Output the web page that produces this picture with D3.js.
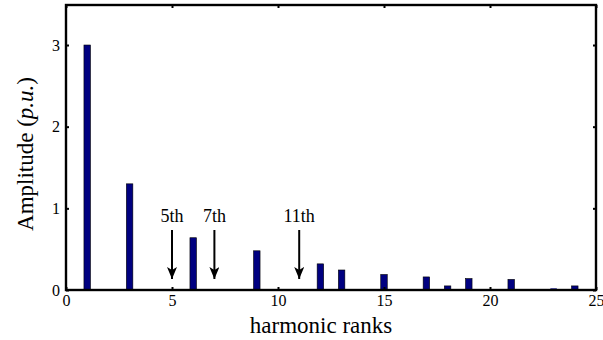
<!DOCTYPE html>
<html><head><meta charset="utf-8">
<script src="https://cdn.jsdelivr.net/npm/d3@7/dist/d3.min.js"></script>
<style>body{margin:0;background:#fff}svg{display:block}svg text{font-family:"Liberation Serif","Times New Roman",Times,"DejaVu Serif",serif !important;fill:#000}</style>
</head><body><svg id="c" width="603" height="340"></svg>
<script>
const ranks = [1,2,3,4,5,6,7,8,9,10,11,12,13,14,15,16,17,18,19,20,21,22,23,24];
const amplitudes = [3.0,0.006,1.3,0.006,0,0.64,0,0.006,0.48,0.006,0,0.32,0.245,0.006,0.19,0.006,0.16,0.05,0.14,0.006,0.13,0.006,0.02,0.05];
const xTicks = [0,5,10,15,20,25];
const yTicks = [0,1,2,3];
const annotations = [{rank:5,label:"5th"},{rank:7,label:"7th"},{rank:11,label:"11th"}];

const svg = d3.select("#c");
const L=66,R=596,T=5,B=290;
const x = d3.scaleLinear().domain([0,25]).range([L,R]);
const y = d3.scaleLinear().domain([0,3.49]).range([B,T]);
const bw = 6.5;

svg.append("g").selectAll("rect").data(ranks.map((r,i)=>({r,v:amplitudes[i]})).filter(d=>d.v>0))
  .join("rect")
  .attr("x",d=>x(d.r)-bw/2).attr("width",bw)
  .attr("y",d=>y(d.v)).attr("height",d=>B-y(d.v))
  .attr("fill",d=>d.v>0.01?"#000080":"#c8c8c8").attr("stroke",d=>d.v>0.02?"#000":"none").attr("stroke-width",0.6);

// axes
const ax = svg.append("g");
const xb = d3.axisBottom(x).tickValues(xTicks).tickSizeInner(-3).tickSizeOuter(0).tickPadding(5).tickFormat(d3.format("d"));
const xt = d3.axisTop(x).tickValues(xTicks).tickSizeInner(-3).tickSizeOuter(0).tickFormat("");
const yl = d3.axisLeft(y).tickValues(yTicks).tickSizeInner(-3).tickSizeOuter(0).tickPadding(6).tickFormat(d3.format("d"));
const yr = d3.axisRight(y).tickValues(yTicks).tickSizeInner(-3).tickSizeOuter(0).tickFormat("");
ax.append("g").attr("transform",`translate(0,${B})`).call(xb);
ax.append("g").attr("transform",`translate(0,${T})`).call(xt);
ax.append("g").attr("transform",`translate(${L},0)`).call(yl);
ax.append("g").attr("transform",`translate(${R},0)`).call(yr);
ax.selectAll(".domain").remove();
ax.selectAll("g").attr("font-family",null);
ax.selectAll(".tick line").attr("stroke","#000").attr("stroke-width",2);
ax.selectAll(".tick text").attr("font-size",16).attr("fill","#000");
svg.append("rect").attr("x",L).attr("y",T).attr("width",R-L).attr("height",B-T)
  .attr("fill","none").attr("stroke","#000").attr("stroke-width",2.4);

// labels
svg.append("text").attr("x",321).attr("y",333).attr("text-anchor","middle").attr("font-size",23).text("harmonic ranks");
const yl2 = svg.append("text").attr("transform",`translate(33,154) rotate(-90)`).attr("text-anchor","middle").attr("font-size",23);
yl2.append("tspan").text("Amplitude (");
yl2.append("tspan").attr("font-style","italic").text("p.u.");
yl2.append("tspan").text(")");

// annotations
svg.append("defs").append("marker").attr("id","ah").attr("viewBox","0 0 10 12").attr("refX",5).attr("refY",12)
  .attr("markerWidth",10).attr("markerHeight",12).attr("markerUnits","userSpaceOnUse").attr("orient","0")
  .append("path").attr("d","M0,0L5,3L10,0L5,12Z").attr("fill","#000");
const an = svg.append("g").selectAll("g").data(annotations).join("g");
an.append("text").attr("x",d=>x(d.rank)).attr("y",222).attr("text-anchor","middle").attr("font-size",18).text(d=>d.label);
an.append("line").attr("x1",d=>x(d.rank)).attr("x2",d=>x(d.rank)).attr("y1",230).attr("y2",279)
  .attr("stroke","#000").attr("stroke-width",2).attr("marker-end","url(#ah)");
</script></body></html>
